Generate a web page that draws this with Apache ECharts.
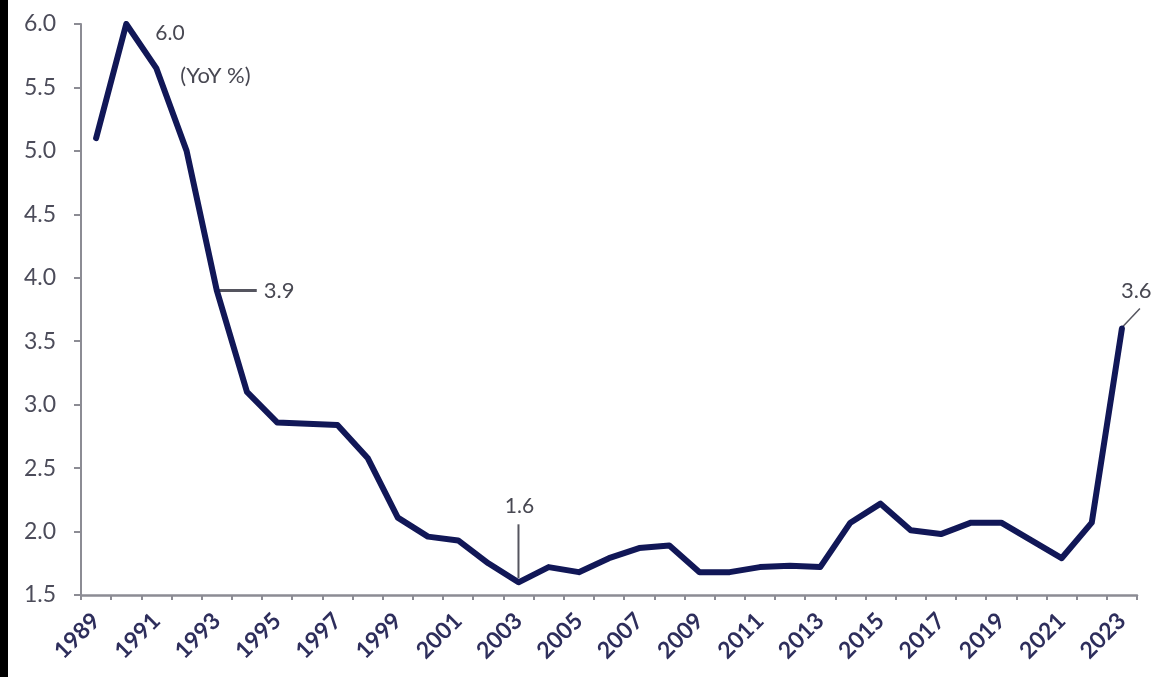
<!DOCTYPE html>
<html>
<head>
<meta charset="utf-8">
<script src="https://cdn.jsdelivr.net/npm/echarts@6/dist/echarts.min.js"></script>
<style>
  html, body { margin: 0; padding: 0; background: #ffffff; }
  #chart { width: 1161px; height: 677px; }
</style>
</head>
<body>
<div id="chart"></div>
<script>
// Annual consumer price inflation, year over year (%)
const years = [
  '1989', '1990', '1991', '1992', '1993', '1994', '1995', '1996', '1997', '1998',
  '1999', '2000', '2001', '2002', '2003', '2004', '2005', '2006', '2007', '2008',
  '2009', '2010', '2011', '2012', '2013', '2014', '2015', '2016', '2017', '2018',
  '2019', '2020', '2021', '2022', '2023'
];
const inflation = [
  5.1, 6.0, 5.65, 5.0, 3.9, 3.1, 2.86, 2.85, 2.84, 2.58,
  2.11, 1.96, 1.93, 1.75, 1.6, 1.72, 1.68, 1.79, 1.87, 1.89,
  1.68, 1.68, 1.72, 1.73, 1.72, 2.07, 2.22, 2.01, 1.98, 2.07,
  2.07, 1.93, 1.79, 2.07, 3.6
];
const yMin = 1.5;
const yMax = 6.0;
const yStep = 0.5;
const unitNote = '(YoY %)';
// years whose values are written next to the line
const peakYear = '1990';
const dropYear = '1993';
const lowYear = '2003';
const lastYear = '2023';

const FONT = 'Lato, "Open Sans", sans-serif';
const LINE = '#111757';
const AXIS = '#8c8c94';
const NOTE = '#484852';

const chart = echarts.init(document.getElementById('chart'), null, { renderer: 'canvas' });

chart.setOption({
  backgroundColor: '#ffffff',
  animation: false,
  grid: { left: 81, right: 24, top: 24, bottom: 82, containLabel: false },
  xAxis: {
    type: 'category',
    data: years,
    boundaryGap: true,
    axisLine: { show: true, lineStyle: { color: AXIS, width: 2.5 } },
    axisTick: { show: true, interval: 0, length: 5, lineStyle: { color: AXIS, width: 2 } },
    axisLabel: {
      interval: 1,
      rotate: 45,
      margin: 22,
      color: '#2e2e5c',
      fontFamily: FONT,
      fontWeight: 'bold',
      fontSize: 23
    },
    splitLine: { show: false }
  },
  yAxis: {
    type: 'value',
    min: yMin,
    max: yMax,
    interval: yStep,
    axisLine: { show: true, lineStyle: { color: AXIS, width: 2 } },
    axisTick: { show: true, length: 7, lineStyle: { color: AXIS, width: 2 } },
    axisLabel: {
      margin: 25,
      color: '#4c4c5a',
      fontFamily: FONT,
      fontSize: 23,
      formatter: v => v.toFixed(1)
    },
    splitLine: { show: false }
  },
  series: [{
    type: 'line',
    data: inflation,
    symbol: 'none',
    smooth: false,
    lineStyle: { color: LINE, width: 6, cap: 'round', join: 'round' },
    z: 3
  }]
});

// Value callouts with leader lines, placed from the data through the axes
function at(year) {
  const i = years.indexOf(year);
  return { p: chart.convertToPixel({ gridIndex: 0 }, [i, inflation[i]]), v: inflation[i] };
}
function note(x, y, text, align, size) {
  return {
    type: 'text', x: x, y: y, z: 10,
    style: {
      text: text, fill: NOTE, font: size + 'px ' + FONT,
      align: align, verticalAlign: 'middle'
    }
  };
}
function leader(x1, y1, x2, y2, w) {
  return {
    type: 'line', z: 2,
    shape: { x1: x1, y1: y1, x2: x2, y2: y2 },
    style: { stroke: '#55555f', lineWidth: w }
  };
}

const peak = at(peakYear);
const drop = at(dropYear);
const low = at(lowYear);
const last = at(lastYear);

chart.setOption({
  graphic: [
    // dark edge strip down the left side
    { type: 'rect', z: 20, shape: { x: 0, y: 0, width: 8, height: 677 }, style: { fill: '#000000' } },

    note(peak.p[0] + 29, peak.p[1] + 9, peak.v.toFixed(1), 'left', 21),
    note(peak.p[0] + 54, peak.p[1] + 52, unitNote, 'left', 22),

    leader(drop.p[0], drop.p[1], drop.p[0] + 40, drop.p[1], 3),
    note(drop.p[0] + 47, drop.p[1], drop.v.toFixed(1), 'left', 22),

    leader(low.p[0], low.p[1] - 4, low.p[0], low.p[1] - 58, 2),
    note(low.p[0] + 1, low.p[1] - 76, low.v.toFixed(1), 'center', 21),

    leader(last.p[0] + 1, last.p[1] - 2, last.p[0] + 18, last.p[1] - 20, 1.5),
    note(last.p[0] - 1, last.p[1] - 38, last.v.toFixed(1), 'left', 22)
  ]
});
</script>
</body>
</html>
